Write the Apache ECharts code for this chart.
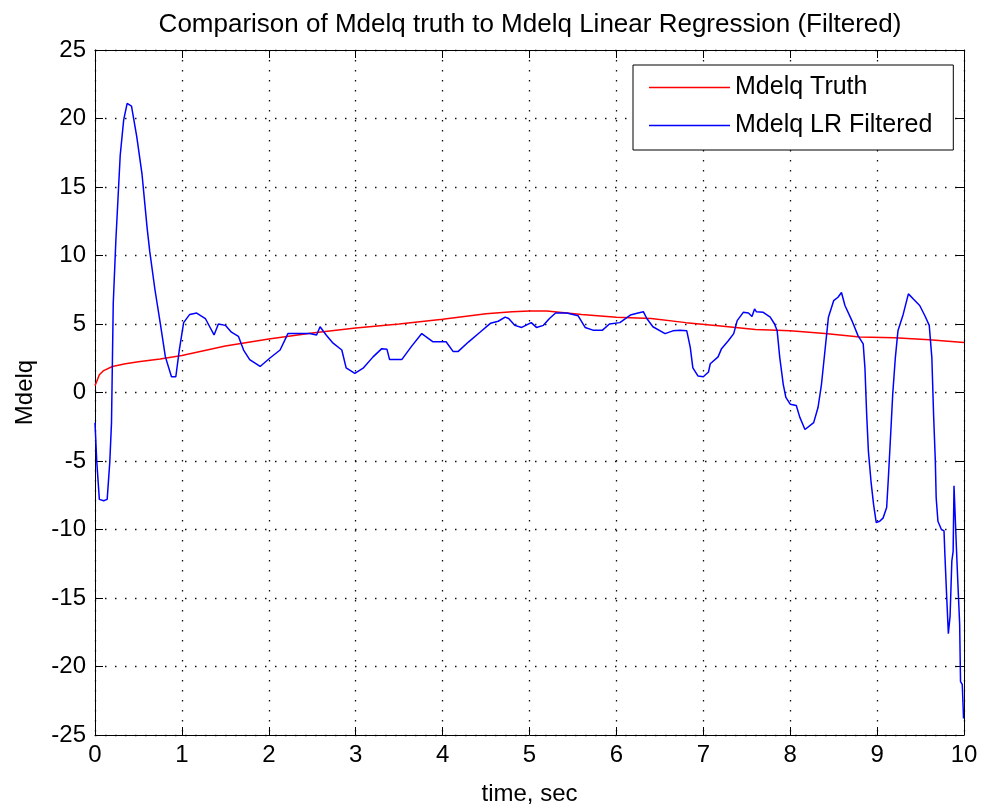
<!DOCTYPE html>
<html>
<head>
<meta charset="utf-8">
<script src="https://cdn.jsdelivr.net/npm/echarts@6/dist/echarts.min.js"></script>
<style>
html,body{margin:0;padding:0;background:#fff;}
#chart{width:981px;height:811px;}
</style>
</head>
<body>
<div id="chart"></div>
<script>
const titleText = 'Comparison of Mdelq truth to Mdelq Linear Regression (Filtered)';
const xTitle = 'time, sec';
const yTitle = 'Mdelq';
const seriesNames = ['Mdelq Truth', 'Mdelq LR Filtered'];

const truthT = [0, 0.02, 0.05, 0.1, 0.2, 0.35, 0.5, 0.75, 1.0, 1.5, 2.0, 2.5, 3.0, 3.5, 4.0, 4.5, 4.8, 5.0, 5.2, 5.6, 6.0, 6.4, 6.8, 7.2, 7.6, 8.0, 8.4, 8.8, 9.2, 9.6, 10];
const truthV = [0.5, 0.8, 1.3, 1.6, 1.9, 2.1, 2.25, 2.45, 2.7, 3.4, 3.9, 4.35, 4.7, 5.0, 5.35, 5.75, 5.9, 5.95, 5.95, 5.7, 5.5, 5.4, 5.1, 4.85, 4.6, 4.5, 4.3, 4.05, 4.0, 3.85, 3.65];

const lrT = [0.0, 0.02, 0.05, 0.1, 0.14, 0.17, 0.19, 0.21, 0.24, 0.29, 0.33, 0.37, 0.42, 0.48, 0.54, 0.60, 0.63, 0.69, 0.75, 0.81, 0.88, 0.93, 0.97, 1.02, 1.09, 1.17, 1.27, 1.32, 1.37, 1.42, 1.50, 1.57, 1.65, 1.71, 1.78, 1.90, 2.01, 2.13, 2.22, 2.36, 2.47, 2.55, 2.59, 2.66, 2.74, 2.84, 2.89, 2.99, 3.09, 3.20, 3.30, 3.36, 3.39, 3.53, 3.64, 3.76, 3.89, 4.04, 4.12, 4.18, 4.30, 4.43, 4.55, 4.64, 4.72, 4.76, 4.83, 4.91, 5.02, 5.08, 5.16, 5.23, 5.30, 5.43, 5.56, 5.64, 5.73, 5.84, 5.92, 6.04, 6.16, 6.25, 6.31, 6.35, 6.42, 6.56, 6.65, 6.73, 6.81, 6.85, 6.88, 6.94, 7.00, 7.06, 7.08, 7.17, 7.21, 7.29, 7.35, 7.39, 7.46, 7.52, 7.56, 7.59, 7.61, 7.69, 7.77, 7.82, 7.85, 7.88, 7.92, 7.95, 8.00, 8.07, 8.11, 8.17, 8.27, 8.32, 8.36, 8.40, 8.44, 8.50, 8.55, 8.59, 8.63, 8.71, 8.78, 8.84, 8.86, 8.88, 8.90, 8.93, 8.96, 8.99, 9.03, 9.07, 9.11, 9.13, 9.15, 9.18, 9.21, 9.24, 9.30, 9.36, 9.42, 9.49, 9.55, 9.60, 9.63, 9.65, 9.67, 9.68, 9.70, 9.74, 9.77, 9.78, 9.80, 9.82, 9.84, 9.86, 9.875, 9.885, 9.905, 9.915, 9.93, 9.95, 9.96, 9.98, 9.995];
const lrV = [-2.2, -5.0, -7.8, -7.9, -7.8, -5.1, -2.2, 6.5, 11.1, 17.3, 19.9, 21.1, 20.9, 18.7, 16.0, 12.0, 10.3, 7.5, 5.1, 2.6, 1.15, 1.15, 3.1, 5.1, 5.7, 5.8, 5.4, 4.8, 4.2, 5.0, 4.9, 4.4, 4.1, 3.1, 2.4, 1.9, 2.5, 3.1, 4.3, 4.3, 4.3, 4.2, 4.8, 4.2, 3.6, 3.1, 1.8, 1.4, 1.8, 2.6, 3.2, 3.15, 2.4, 2.4, 3.35, 4.3, 3.7, 3.7, 3.0, 3.0, 3.7, 4.4, 5.05, 5.2, 5.5, 5.4, 4.9, 4.75, 5.1, 4.75, 4.9, 5.4, 5.8, 5.8, 5.6, 4.75, 4.55, 4.55, 5.0, 5.1, 5.65, 5.8, 5.9, 5.4, 4.8, 4.3, 4.5, 4.55, 4.5, 3.3, 1.8, 1.2, 1.15, 1.5, 2.1, 2.6, 3.2, 3.8, 4.3, 5.25, 5.85, 5.8, 5.55, 6.1, 5.9, 5.85, 5.5, 5.0, 4.5, 2.55, 0.6, -0.35, -0.85, -0.95, -1.8, -2.7, -2.2, -1.1, 0.6, 3.05, 5.5, 6.7, 6.95, 7.3, 6.35, 5.25, 4.15, 3.55, 1.8, -1.6, -4.3, -6.5, -8.2, -9.5, -9.4, -9.15, -8.4, -6.2, -3.8, -0.1, 2.55, 4.5, 5.7, 7.2, 6.8, 6.35, 5.6, 4.9, 2.55, -1.6, -5.0, -7.7, -9.4, -10.0, -10.1, -11.8, -14.8, -17.6, -16.3, -12.3, -11.6, -6.8, -6.7, -11.7, -14.0, -16.9, -21.1, -21.3, -23.8];

const xMin = 0, xMax = 10, xStep = 1;
const yMin = -25, yMax = 25, yStep = 5;

const FONT = '"Liberation Sans", Arial, sans-serif';
const zip = (a, b) => a.map((t, i) => [t, b[i]]);

const chart = echarts.init(document.getElementById('chart'), null, {renderer: 'canvas'});
const gridDots = {show: true, lineStyle: {color: '#111', width: 1.3, type: [1.5, 8.5]}};
const tick = {show: true, inside: true, length: 8, lineStyle: {color: '#000', width: 1}};
const line = {show: true, onZero: false, lineStyle: {color: '#000', width: 1}};
const lineIcon = 'path://M0,0 L80,0 L80,1.5 L0,1.5 Z';

chart.setOption({
  animation: false,
  backgroundColor: '#fff',
  textStyle: {fontFamily: FONT},
  title: {
    text: titleText,
    left: 525, top: 7, textAlign: 'center',
    textStyle: {fontFamily: FONT, fontSize: 26, fontWeight: 'normal', color: '#000'}
  },
  grid: {left: 95, right: 17, top: 50, bottom: 76, containLabel: false},
  legend: {
    orient: 'vertical', left: 633, top: 65,
    padding: [10, 21, 12, 16],
    itemWidth: 81, itemHeight: 20, itemGap: 13,
    icon: lineIcon, symbolKeepAspect: true,
    borderColor: '#000', borderWidth: 1, backgroundColor: '#fff', borderRadius: 0,
    textStyle: {fontFamily: FONT, fontSize: 25, color: '#000'},
    data: seriesNames
  },
  xAxis: [{
    type: 'value', min: xMin, max: xMax, interval: xStep, position: 'bottom',
    axisLine: line, axisTick: tick,
    axisLabel: {fontFamily: FONT, fontSize: 24, color: '#000', margin: 8},
    splitLine: gridDots,
    name: xTitle, nameLocation: 'middle', nameGap: 47,
    nameTextStyle: {fontFamily: FONT, fontSize: 24, color: '#000'}
  }, {
    type: 'value', min: xMin, max: xMax, interval: xStep, position: 'top',
    axisLine: line, axisTick: tick, axisLabel: {show: false}, splitLine: {show: false}
  }],
  yAxis: [{
    type: 'value', min: yMin, max: yMax, interval: yStep, position: 'left',
    axisLine: line, axisTick: tick,
    axisLabel: {fontFamily: FONT, fontSize: 24, color: '#000', margin: 9},
    splitLine: gridDots,
    name: yTitle, nameLocation: 'middle', nameGap: 58, nameRotate: 90,
    nameTextStyle: {fontFamily: FONT, fontSize: 24, color: '#000'}
  }, {
    type: 'value', min: yMin, max: yMax, interval: yStep, position: 'right',
    axisLine: line, axisTick: tick, axisLabel: {show: false}, splitLine: {show: false}
  }],
  series: [{
    name: seriesNames[0], type: 'line', xAxisIndex: 0, yAxisIndex: 0,
    data: zip(truthT, truthV), showSymbol: false, symbol: 'none',
    lineStyle: {color: '#ff0000', width: 1.5}, itemStyle: {color: '#ff0000'}
  }, {
    name: seriesNames[1], type: 'line', xAxisIndex: 0, yAxisIndex: 0,
    data: zip(lrT, lrV), showSymbol: false, symbol: 'none',
    lineStyle: {color: '#0000ff', width: 1.5}, itemStyle: {color: '#0000ff'}
  }]
});
</script>
</body>
</html>
